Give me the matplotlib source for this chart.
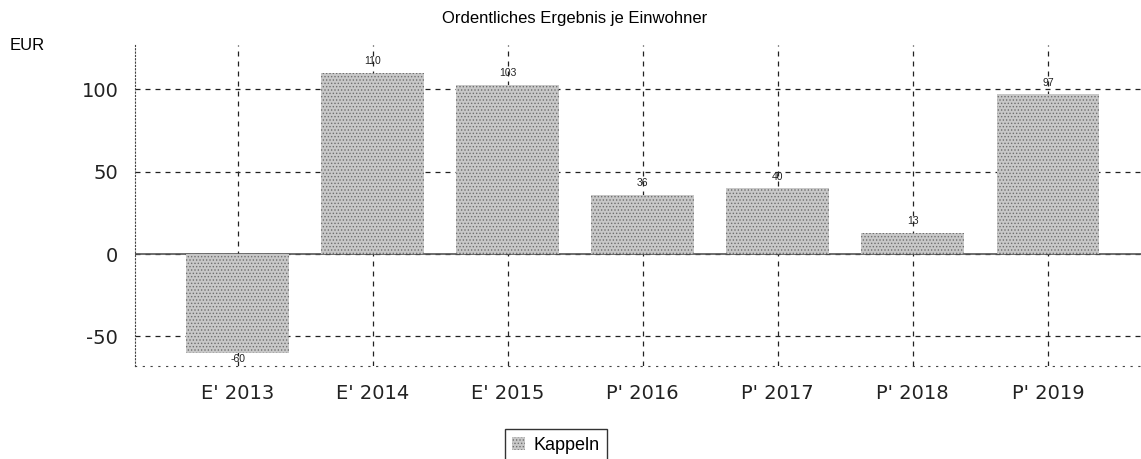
import matplotlib
matplotlib.use("Agg")
import matplotlib.pyplot as plt
import numpy as np

categories = ["E' 2013", "E' 2014", "E' 2015", "P' 2016", "P' 2017", "P' 2018", "P' 2019"]
values = [-60, 110, 103, 36, 40, 13, 97]
value_labels = ["-60", "110", "103", "36", "40", "13", "97"]
series_name = "Kappeln"
yticks = [-50, 0, 50, 100]

plt.rcParams['font.family'] = ['Liberation Sans', 'DejaVu Sans']
plt.rcParams['hatch.linewidth'] = 0.6

fig = plt.figure(figsize=(11.41, 4.59), dpi=100)
ax = fig.add_axes([135/1141, 1 - 366/459, 1 - 135/1141, (366 - 45)/459])

x = np.arange(len(categories))
ax.set_xlim(-0.76, 6.69)
ax.set_ylim(-68, 127)

for xv in x:
    ax.axvline(xv, color='#222222', linestyle=(0, (4, 4)), linewidth=0.9, zorder=0)
for yv in yticks:
    ax.axhline(yv, color='#222222', linestyle=(0, (4, 4)), linewidth=0.9, zorder=0)

bars = ax.bar(x, values, width=0.76, color='#c8c8c8', edgecolor='#6e6e6e',
              hatch='.....', linewidth=0, zorder=2, label=series_name)
ax.axhline(0, color='#555555', linewidth=1.2, zorder=1)

for xv, v, lab in zip(x, values, value_labels):
    if v >= 0:
        ax.text(xv, v + 4, lab, ha='center', va='bottom', fontsize=7.5, color='#222222', zorder=3)
    else:
        ax.text(xv, v - 1, lab, ha='center', va='top', fontsize=7.5, color='#222222', zorder=3)

for s in ['top', 'right']:
    ax.spines[s].set_visible(False)
ax.spines['left'].set_linestyle((0, (1, 2)))
ax.spines['left'].set_color('#444444')
ax.spines['bottom'].set_linestyle((0, (1, 6)))
ax.spines['bottom'].set_color('#444444')

ax.set_xticks(x)
ax.set_xticklabels(categories, fontsize=14, color='#222222', family='DejaVu Sans')
ax.set_yticks(yticks)
ax.set_yticklabels([str(t) for t in yticks], fontsize=14, color='#222222', family='DejaVu Sans')
ax.tick_params(axis='x', length=0, pad=13)
ax.tick_params(axis='y', length=0, pad=12)

fig.text(575/1141, 1 - 18/459, "Ordentliches Ergebnis je Einwohner", ha='center', va='center', fontsize=12)
fig.text(10/1141, 1 - 45/459, "EUR", ha='left', va='center', fontsize=12)

leg = fig.legend(handles=[bars], labels=[series_name], loc='center',
                 bbox_to_anchor=(556/1141, 1 - 445/459), fontsize=13,
                 frameon=True, fancybox=False, edgecolor='black',
                 handlelength=0.7, handleheight=0.7, handletextpad=0.5, borderpad=0.4)
leg.get_frame().set_linewidth(1.0)

fig.savefig("out.png", dpi=100)
